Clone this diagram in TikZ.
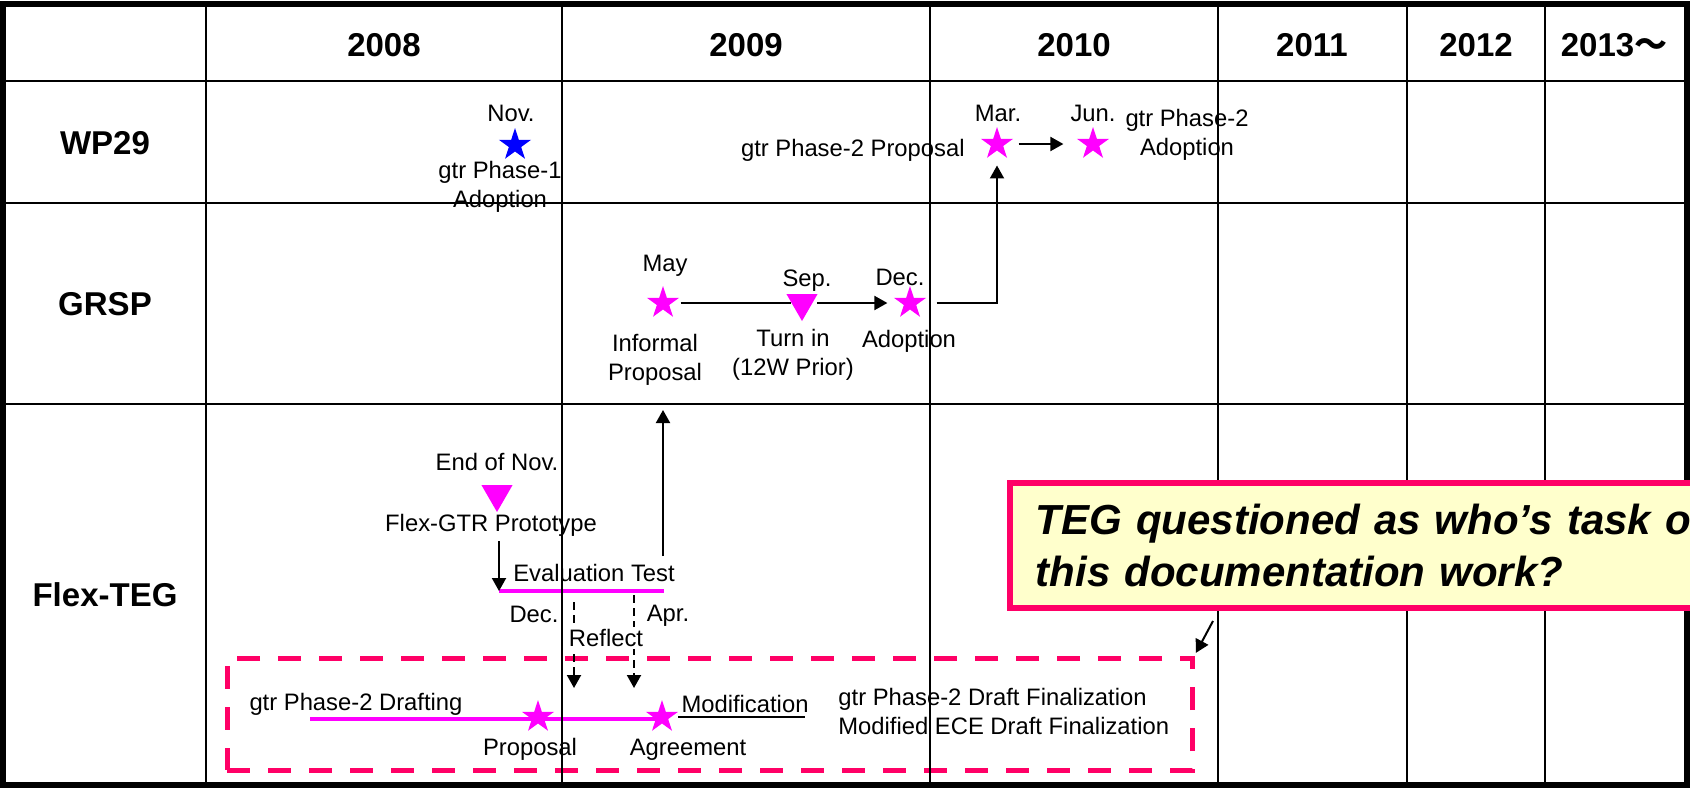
\documentclass[tikz,border=0pt]{standalone}
\usepackage{fontspec}
\setmainfont{Liberation Sans}
\newfontfamily\cjkfont{Noto Sans CJK JP}
\usetikzlibrary{shapes.geometric,arrows.meta}

\definecolor{tlmagenta}{HTML}{FF00FF}
\definecolor{tlblue}{HTML}{0000FF}
\definecolor{tlpink}{HTML}{FF0066}
\definecolor{tlcream}{HTML}{FFFFCC}

\tikzstyle{txt}=[font=\fontsize{11.9}{14.5}\selectfont, align=center, inner sep=0pt]
\tikzstyle{heading}=[font=\bfseries\fontsize{16.5}{20}\selectfont, inner sep=0pt]
\tikzstyle{pstar}=[star, star points=5, star point ratio=2.618, fill=tlmagenta, inner sep=0pt, minimum size=17pt]
\tikzstyle{bstar}=[pstar, fill=tlblue]
\tikzstyle{ptri}=[regular polygon, regular polygon sides=3, shape border rotate=180, fill=tlmagenta, inner sep=0pt, minimum size=18pt]
\tikzstyle{dep}=[-{Triangle[width=7pt,length=6.5pt]}, line width=1pt]
\tikzstyle{ddep}=[dep, dash pattern=on 4pt off 2.5pt]
\tikzstyle{mspan}=[tlmagenta, line width=2pt]
\tikzstyle{gridrule}=[line width=1.3pt]
\tikzstyle{draftbox}=[draw=tlpink, line width=2.5pt, dash pattern=on 11.5pt off 9pt, minimum width=482.5pt, minimum height=56pt, inner sep=0pt]
\tikzstyle{callout}=[draw=tlpink, line width=2.75pt, fill=tlcream, font=\bfseries\itshape\fontsize{21}{26}\selectfont, text width=345pt, align=left, inner xsep=13pt, minimum height=62.5pt]

\begin{document}
\begin{tikzpicture}[x=0.5pt, y=-0.5pt]
      \clip (0,0) rectangle (1690,788);
      \node[draftbox] (draft) at (709.5,714) {};
      % header row and row labels
      \foreach \yr/\x in {2008/384, 2009/746, 2010/1074, 2011/1312, 2012/1476} {%
        \node[heading] (y\yr) at (\x,45) {\yr};
      }
      \node[heading] (y2013) at (1614,45) {2013{\cjkfont ～}};
      \node[heading] (wp) at (105,143) {WP29};
      \node[heading] (grsp) at (105,304) {GRSP};
      \node[heading] (flex) at (105,595) {Flex-TEG};
      % WP29
      \node[txt] (nov) at (511,113) {Nov.};
      \node[bstar] (novstar) at (515,145) {};
      \node[txt] (phaseone) at (500,187) {gtr Phase-1\\Adoption};
      \node[txt, anchor=east] (p2prop) at (965,150.5) {gtr Phase-2 Proposal};
      \node[txt] (mar) at (998,113) {Mar.};
      \node[pstar] (marstar) at (997,144) {};
      \node[txt] (jun) at (1093,113) {Jun.};
      \node[pstar] (junstar) at (1093,144) {};
      \node[txt] (p2adopt) at (1187,134.5) {gtr Phase-2\\Adoption};
      \draw[dep, shorten <=6pt, shorten >=10pt] (marstar) -- (junstar);
      % GRSP
      \node[txt] (may) at (665,265.5) {May};
      \node[pstar] (maystar) at (663,303) {};
      \node[txt] (informal) at (655,360) {Informal\\Proposal};
      \node[txt] (sep) at (807,280.5) {Sep.};
      \node[ptri] (septri) at (802,303) {};
      \node[txt] (turnin) at (793,355) {Turn in\\(12W Prior)};
      \node[txt] (dec) at (900,277) {Dec.};
      \node[pstar] (decstar) at (910,303) {};
      \node[txt] (grspadopt) at (909,341.5) {Adoption};
      \draw[line width=1pt, shorten <=4pt] (maystar) -- (septri);
      \draw[dep, shorten <=2pt, shorten >=6.5pt] (septri) -- (decstar);
      \draw[dep, shorten <=8.5pt, shorten >=7.25pt] (decstar) -| (marstar);
      % Flex-TEG
      \node[txt] (endnov) at (497,462) {End of Nov.};
      \node[ptri] (prototri) at (497,494) {};
      \node[txt] (proto) at (491,525.5) {Flex-GTR Prototype};
      \node[txt] (evaltest) at (594,573) {Evaluation Test};
      \coordinate (evalL) at (499,591);
      \coordinate (evalR) at (664,591);
      \draw[mspan] (evalL) -- (evalR);
      \draw[dep] ([yshift=-2pt]proto.south -| evalL) -- (evalL);
      \coordinate (upfoot) at (663,556);
      \coordinate (uptip) at (663,410);
      \draw[dep] (upfoot) -- (uptip);
      \coordinate (decfoot) at (574,602);
      \coordinate (dectip) at (574,688);
      \coordinate (aprfoot) at (634,595);
      \coordinate (aprtip) at (634,688);
      \draw[ddep] (decfoot) -- (dectip);
      \draw[ddep] (aprfoot) -- (aprtip);
      \node[txt] (decmark) at (534,614) {Dec.};
      \node[txt] (aprmark) at (668,615.5) {Apr.};
      \node[txt, fill=white, inner sep=1pt] (reflect) at (606,638) {Reflect};
      % drafting
      \node[txt] (drafting) at (356,704.5) {gtr Phase-2 Drafting};
      \coordinate (draftL) at (310,719);
      \node[pstar] (propstar) at (538,717) {};
      \node[pstar] (agreestar) at (662,717) {};
      \draw[mspan] (draftL) -- (draftL -| agreestar);
      \node[txt] (proposal) at (530,749.5) {Proposal};
      \node[txt] (agreement) at (688,749.5) {Agreement};
      \node[txt] (modif) at (745,704) {Modification};
      \draw[line width=1pt] ([shift={(-1.5pt,-2pt)}]modif.south west) -- ([shift={(-2pt,-2pt)}]modif.south east);
      \node[txt, align=left, anchor=west] (finalize) at (838,711.5) {gtr Phase-2 Draft Finalization\\Modified ECE Draft Finalization};
      % table rules
      \foreach \x in {206, 562, 930, 1218, 1407, 1545}
        \draw[gridrule] (\x,4) -- (\x,785);
      \foreach \y in {81, 203, 404}
        \draw[gridrule] (3,\y) -- (1687,\y);
      \draw[line width=2.6pt] (3,4) rectangle (1687,785);
      % callout
      \node[callout, anchor=north west] (question) at (1007,480) {TEG questioned as who’s task of\\this documentation work?};
      \coordinate (qtail) at (1213,621);
      \draw[dep, shorten >=1.5pt] (qtail) -- (draft.north east);
    \end{tikzpicture}
\end{document}
